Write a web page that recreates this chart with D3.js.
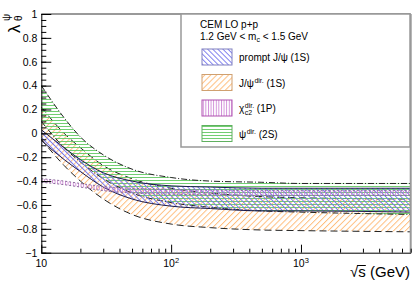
<!DOCTYPE html>
<html><head><meta charset="utf-8">
<script src="https://cdn.jsdelivr.net/npm/d3@7"></script>
<style>
body{margin:0;background:#fff}
text{font-family:"Liberation Sans",Arial,Helvetica,sans-serif;fill:#000}
</style>
</head><body>
<svg id="svg1" width="415" height="281"></svg>
<script>
// sqrt(s) grid in GeV
var sqrtS = [10, 15, 20, 30, 50, 100, 200, 500, 1000, 7000];

// lambda_theta bands
var psi2sHi   = [0.40, 0.13, -0.03, -0.18, -0.30, -0.37, -0.40, -0.41, -0.42, -0.42];
var psi2sLo   = [0.10, -0.12, -0.24, -0.38, -0.50, -0.58, -0.62, -0.65, -0.66, -0.68];
var jpsiDirHi = [0.22, 0.00, -0.12, -0.27, -0.38, -0.46, -0.50, -0.53, -0.54, -0.55];
var jpsiDirLo = [-0.05, -0.27, -0.40, -0.55, -0.68, -0.76, -0.79, -0.81, -0.815, -0.825];
var promptHi  = [0.03, -0.12, -0.22, -0.33, -0.40, -0.44, -0.45, -0.46, -0.46, -0.46];
var promptLo  = [-0.06, -0.22, -0.32, -0.45, -0.55, -0.61, -0.63, -0.65, -0.65, -0.66];
var chic2Hi   = [-0.38, -0.40, -0.42, -0.445, -0.46, -0.47, -0.475, -0.48, -0.48, -0.48];
var chic2Lo   = [-0.41, -0.43, -0.45, -0.48, -0.50, -0.51, -0.515, -0.52, -0.52, -0.52];

var yMajor = [-1, -0.8, -0.6, -0.4, -0.2, 0, 0.2, 0.4, 0.6, 0.8, 1];
var xMajor = [10, 100, 1000];
var xMinor = [20,30,40,50,60,70,80,90,200,300,400,500,600,700,800,900,2000,3000,4000,5000,6000,7000];

var legendItems = [
  {id: 'pPrompt', label: 'prompt J/ψ (1S)'},
  {id: 'pDir', label: 'J/ψ', sup: 'dir.', tail: ' (1S)'},
  {id: 'pChi', label: 'χ', sup: 'dir.', sub: 'c2', tail: ' (1P)'},
  {id: 'pPsi', label: 'ψ', sup: 'dir.', tail: ' (2S)'}
];

var svg = d3.select('#svg1');
var x = d3.scaleLog().domain([10, 7000]).range([41.3, 410.7]);
var y = d3.scaleLinear().domain([-1, 1]).range([252.7, 14]);

var defs = svg.append('defs');
function hatch(id, size, color, angle, w) {
  var p = defs.append('pattern').attr('id', id)
    .attr('patternUnits', 'userSpaceOnUse')
    .attr('width', size).attr('height', size)
    .attr('patternTransform', 'rotate(' + angle + ')');
  p.append('line').attr('x1', 0.5).attr('y1', 0).attr('x2', 0.5).attr('y2', size)
    .attr('stroke', color).attr('stroke-width', w);
}
hatch('pPrompt', 3.6, '#7373ee', -45, 0.9);
hatch('pDir', 4.2, '#ffb872', 45, 0.9);
hatch('pChi', 2.6, '#c878d0', 0, 0.8);
hatch('pPsi', 3, '#62c862', 90, 0.9);

defs.append('clipPath').attr('id', 'frameClip').append('rect')
  .attr('x', x.range()[0]).attr('y', y(1))
  .attr('width', x.range()[1] - x.range()[0]).attr('height', y(-1) - y(1));

var idx = d3.range(sqrtS.length);
function drawBand(hi, lo, fillId, dash, edgeColor) {
  var g = svg.append('g').attr('clip-path', 'url(#frameClip)');
  var area = d3.area()
    .x(function(i) { return x(sqrtS[i]); })
    .y0(function(i) { return y(lo[i]); })
    .y1(function(i) { return y(hi[i]); })
    .curve(d3.curveMonotoneX);
  g.append('path').attr('d', area(idx)).attr('fill', 'url(#' + fillId + ')');
  [hi, lo].forEach(function(arr) {
    var line = d3.line()
      .x(function(i) { return x(sqrtS[i]); })
      .y(function(i) { return y(arr[i]); })
      .curve(d3.curveMonotoneX);
    g.append('path').attr('d', line(idx)).attr('fill', 'none')
      .attr('stroke', edgeColor).attr('stroke-width', 1)
      .attr('stroke-dasharray', dash);
  });
}
drawBand(jpsiDirHi, jpsiDirLo, 'pDir', '7,4', '#222');
drawBand(psi2sHi, psi2sLo, 'pPsi', '6,2,1,2', '#222');
drawBand(promptHi, promptLo, 'pPrompt', null, '#1a1a4a');
drawBand(chic2Hi, chic2Lo, 'pChi', '2,2', '#8a6a9a');

// frame
svg.append('line').attr('x1', x.range()[0]).attr('x2', x.range()[1]).attr('y1', y(1)).attr('y2', y(1))
  .attr('stroke', '#999').attr('stroke-width', 2);
svg.append('line').attr('x1', x.range()[1]).attr('x2', x.range()[1]).attr('y1', y(1)).attr('y2', y(-1))
  .attr('stroke', '#999').attr('stroke-width', 2);

// y axis
var yMinor = d3.range(-1, 1.001, 0.05);
svg.append('g').attr('transform', 'translate(' + x.range()[0] + ',0)')
  .call(d3.axisLeft(y).tickValues(yMinor).tickSize(-5).tickFormat(''))
  .call(function(g) { g.select('.domain').remove(); });
var yAx = svg.append('g').attr('transform', 'translate(' + x.range()[0] + ',0)')
  .call(d3.axisLeft(y).tickValues(yMajor).tickSize(-10).tickSizeOuter(0).tickPadding(4)
    .tickFormat(function(d) { return d === 0 ? '0' : String(+d.toFixed(1)).replace('-', '−'); }));
yAx.selectAll('text').attr('font-size', 10.5).attr('font-family', '"Liberation Sans",Arial,sans-serif');

// x axis
svg.append('g').attr('transform', 'translate(0,' + y(-1) + ')')
  .call(d3.axisBottom(x).tickValues(xMinor).tickSize(-4).tickFormat(''))
  .call(function(g) { g.select('.domain').remove(); });
svg.append('g').attr('transform', 'translate(0,' + y(-1) + ')')
  .call(d3.axisBottom(x).tickValues(xMajor).tickSize(-8).tickSizeOuter(0).tickFormat(''));
var xl = svg.append('g');
xMajor.forEach(function(v) {
  var t = xl.append('text').attr('x', x(v)).attr('y', 267).attr('text-anchor', 'middle').attr('font-size', 10.5);
  var p = Math.round(Math.log10(v));
  if (p === 1) t.text('10');
  else {
    t.append('tspan').text('10');
    t.append('tspan').attr('dy', -4).attr('font-size', 7.5).text(p);
  }
});

// axis titles
var xt = svg.append('text').attr('x', 410).attr('y', 277).attr('text-anchor', 'end').attr('font-size', 15);
xt.append('tspan').text('√');
var sSpan = xt.append('tspan').text('s');
xt.append('tspan').text(' (GeV)');
var sBox = sSpan.node().getExtentOfChar(0);
svg.append('line').attr('x1', sBox.x - 1).attr('x2', sBox.x + sBox.width)
  .attr('y1', 265.5).attr('y2', 265.5).attr('stroke', '#000').attr('stroke-width', 1);
var yt = svg.append('g').attr('transform', 'translate(20,33) rotate(-90)');
yt.append('text').attr('x', 0).attr('y', 0).attr('font-size', 17).text('λ');
yt.append('text').attr('x', 12).attr('y', -10).attr('font-size', 10).text('ψ');
yt.append('text').attr('x', 12).attr('y', 2).attr('font-size', 10).text('θ');

// legend
var lg = svg.append('g');
lg.append('rect').attr('x', 181).attr('y', 14).attr('width', 229).attr('height', 133)
  .attr('fill', '#fff').attr('stroke', '#999').attr('stroke-width', 1.5);
lg.append('text').attr('x', 200).attr('y', 28).attr('font-size', 10).text('CEM LO p+p');
var mt = lg.append('text').attr('x', 200).attr('y', 40).attr('font-size', 10);
mt.append('tspan').text('1.2 GeV < m');
mt.append('tspan').attr('dy', 2).attr('font-size', 7).text('c');
mt.append('tspan').attr('dy', -2).text(' < 1.5 GeV');
var strokeCol = {pPrompt: '#8080c0', pDir: '#d0a070', pChi: '#b050b0', pPsi: '#60b060'};
legendItems.forEach(function(d, i) {
  var ty = 49 + i * 25.5;
  lg.append('rect').attr('x', 202).attr('y', ty).attr('width', 30).attr('height', 16)
    .attr('fill', 'url(#' + d.id + ')').attr('stroke', strokeCol[d.id]).attr('stroke-width', 1);
  var base = lg.append('text').attr('x', 239).attr('y', ty + 12).attr('font-size', 10).text(d.label);
  if (!d.sup) return;
  var cx = 239 + base.node().getComputedTextLength();
  var sup = lg.append('text').attr('x', cx + 0.5).attr('y', ty + 8).attr('font-size', 7).text(d.sup);
  var w = sup.node().getComputedTextLength();
  if (d.sub) {
    var sub = lg.append('text').attr('x', cx + 0.5).attr('y', ty + 15).attr('font-size', 7).text(d.sub);
    w = Math.max(w, sub.node().getComputedTextLength());
  }
  lg.append('text').attr('x', cx + 0.5 + w).attr('y', ty + 12).attr('font-size', 10)
    .attr('xml:space', 'preserve').text(d.tail);
});
</script>
</body></html>
